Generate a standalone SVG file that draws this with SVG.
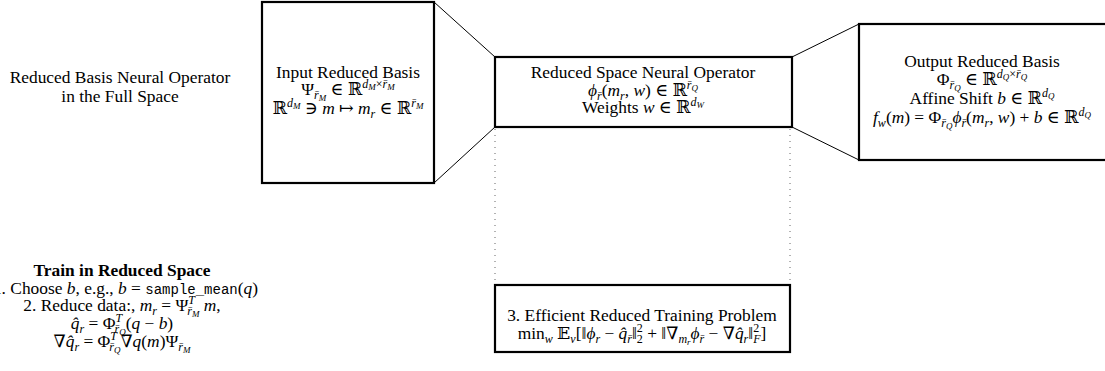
<svg xmlns="http://www.w3.org/2000/svg" width="1105" height="371" viewBox="0 0 1105 371">
<style>
.t{font-family:"Liberation Serif","DejaVu Serif",serif;font-size:17.4px;text-anchor:middle;fill:#000}
.e{text-anchor:end}
.i{font-style:italic}
.b{font-weight:bold}
.m{font-family:"Liberation Mono",monospace;font-size:14px}
.s1{font-size:12px}
.s2{font-size:9px}
.box{fill:#fff;stroke:#000;stroke-width:2.2}
.con{stroke:#000;stroke-width:1;fill:none}
.dot{stroke:#666;stroke-width:1;stroke-dasharray:1 5;fill:none}
</style>
<rect width="1105" height="371" fill="#fff"/>
<g id="connectors">
<line class="con" x1="434" y1="2" x2="495" y2="57"/>
<line class="con" x1="434" y1="183" x2="495" y2="127"/>
<line class="con" x1="792" y1="57" x2="859" y2="24"/>
<line class="con" x1="792" y1="127" x2="859" y2="160"/>
<line class="dot" x1="495" y1="129" x2="495" y2="284"/>
<line class="dot" x1="790" y1="129" x2="790" y2="284"/>
</g>
<g id="title">
<text class="t" x="120" y="83">Reduced Basis Neural Operator</text>
<text class="t" x="120" y="102">in the Full Space</text>
</g>
<g id="input">
<rect class="box" x="262" y="2" width="172" height="181"/>
<text class="t" x="348" y="78">Input Reduced Basis</text>
<text class="t" x="348" y="95">Ψ<tspan class="s1 i" dy="4">r̄</tspan><tspan class="s2 i" dy="2">M</tspan><tspan dy="-6"> ∈ ℝ</tspan><tspan class="s1 i" dy="-7">d</tspan><tspan class="s2 i" dy="2">M</tspan><tspan class="s1" dy="-2">×</tspan><tspan class="s1 i">r̄</tspan><tspan class="s2 i" dy="2">M</tspan></text>
<text class="t" x="348" y="114">ℝ<tspan class="s1 i" dy="-7">d</tspan><tspan class="s2 i" dy="2">M</tspan><tspan dy="5"> ∋ </tspan><tspan class="i">m</tspan> ↦ <tspan class="i">m</tspan><tspan class="s1 i" dy="4">r</tspan><tspan dy="-4"> ∈ ℝ</tspan><tspan class="s1 i" dy="-7">r̄</tspan><tspan class="s2 i" dy="2">M</tspan></text>
</g>
<g id="reduced">
<rect class="box" x="495" y="57" width="297" height="70"/>
<text class="t" x="643" y="78">Reduced Space Neural Operator</text>
<text class="t" x="643" y="96"><tspan class="i">ϕ</tspan><tspan class="s1 i" dy="4">r̄</tspan><tspan dy="-4">(</tspan><tspan class="i">m</tspan><tspan class="s1 i" dy="4">r</tspan><tspan dy="-4">, </tspan><tspan class="i">w</tspan>) ∈ ℝ<tspan class="s1 i" dy="-7">r̄</tspan><tspan class="s2 i" dy="2">Q</tspan></text>
<text class="t" x="643" y="113">Weights <tspan class="i">w</tspan> ∈ ℝ<tspan class="s1 i" dy="-7">d</tspan><tspan class="s2 i" dy="2">W</tspan></text>
</g>
<g id="output">
<rect class="box" x="859" y="24" width="260" height="136"/>
<text class="t" x="982" y="67">Output Reduced Basis</text>
<text class="t" x="982" y="85">Φ<tspan class="s1 i" dy="4">r̄</tspan><tspan class="s2 i" dy="2">Q</tspan><tspan dy="-6"> ∈ ℝ</tspan><tspan class="s1 i" dy="-7">d</tspan><tspan class="s2 i" dy="2">Q</tspan><tspan class="s1" dy="-2">×</tspan><tspan class="s1 i">r̄</tspan><tspan class="s2 i" dy="2">Q</tspan></text>
<text class="t" x="982" y="104">Affine Shift <tspan class="i">b</tspan> ∈ ℝ<tspan class="s1 i" dy="-7">d</tspan><tspan class="s2 i" dy="2">Q</tspan></text>
<text class="t" x="982" y="123"><tspan class="i">f</tspan><tspan class="s1 i" dy="4">w</tspan><tspan dy="-4">(</tspan><tspan class="i">m</tspan>) = Φ<tspan class="s1 i" dy="4">r̄</tspan><tspan class="s2 i" dy="2">Q</tspan><tspan class="i" dy="-6">ϕ</tspan><tspan class="s1 i" dy="4">r̄</tspan><tspan dy="-4">(</tspan><tspan class="i">m</tspan><tspan class="s1 i" dy="4">r</tspan><tspan dy="-4">, </tspan><tspan class="i">w</tspan>) + <tspan class="i">b</tspan> ∈ ℝ<tspan class="s1 i" dy="-7">d</tspan><tspan class="s2 i" dy="2">Q</tspan></text>
</g>
<g id="train">
<text class="t b" x="122" y="276">Train in Reduced Space</text>
<text class="t e" x="258" y="294">1. Choose <tspan class="i">b</tspan>, e.g., <tspan class="i">b</tspan> = <tspan class="m">sample_mean</tspan>(<tspan class="i">q</tspan>)</text>
<text class="t" x="122" y="311">2. Reduce data:, <tspan class="i">m</tspan><tspan class="s1 i" dy="4">r</tspan><tspan dy="-4"> = Ψ</tspan><tspan class="s1 i" dy="-7">T</tspan><tspan class="s1 i" dx="-7" dy="11">r̄</tspan><tspan class="s2 i" dy="2">M</tspan><tspan class="i" dy="-6"> m</tspan>,</text>
<text class="t" x="122" y="329"><tspan class="i">q̂</tspan><tspan class="s1 i" dy="4">r</tspan><tspan dy="-4"> = Φ</tspan><tspan class="s1 i" dy="-7">T</tspan><tspan class="s1 i" dx="-7" dy="11">r̄</tspan><tspan class="s2 i" dy="2">Q</tspan><tspan dy="-6">(</tspan><tspan class="i">q</tspan> − <tspan class="i">b</tspan>)</text>
<text class="t" x="122" y="347">∇<tspan class="i">q̂</tspan><tspan class="s1 i" dy="4">r</tspan><tspan dy="-4"> = Φ</tspan><tspan class="s1 i" dy="-7">T</tspan><tspan class="s1 i" dx="-7" dy="11">r̄</tspan><tspan class="s2 i" dy="2">Q</tspan><tspan dy="-6">∇</tspan><tspan class="i">q</tspan>(<tspan class="i">m</tspan>)Ψ<tspan class="s1 i" dy="4">r̄</tspan><tspan class="s2 i" dy="2">M</tspan></text>
</g>
<g id="training">
<rect class="box" x="495" y="285" width="295" height="67"/>
<text class="t" x="642" y="321">3. Efficient Reduced Training Problem</text>
<text class="t" x="642" y="339">min<tspan class="s1 i" dy="4">w</tspan><tspan dy="-4"> 𝔼</tspan><tspan class="s1 i" dy="4">ν</tspan><tspan dy="-4">[‖</tspan><tspan class="i">ϕ</tspan><tspan class="s1 i" dy="4">r</tspan><tspan dy="-4"> − </tspan><tspan class="i">q̂</tspan><tspan class="s1 i" dy="4">r̄</tspan><tspan dy="-4">‖</tspan><tspan class="s1" dy="-7">2</tspan><tspan class="s1" dx="-6" dy="11">2</tspan><tspan dy="-4"> + ‖∇</tspan><tspan class="s1 i" dy="4">m</tspan><tspan class="s2 i" dy="2">r</tspan><tspan class="i" dy="-6">ϕ</tspan><tspan class="s1 i" dy="4">r̄</tspan><tspan dy="-4"> − ∇</tspan><tspan class="i">q̂</tspan><tspan class="s1 i" dy="4">r</tspan><tspan dy="-4">‖</tspan><tspan class="s1" dy="-7">2</tspan><tspan class="s1 i" dx="-6" dy="11">F</tspan><tspan dy="-4">]</tspan></text>
</g>
</svg>
